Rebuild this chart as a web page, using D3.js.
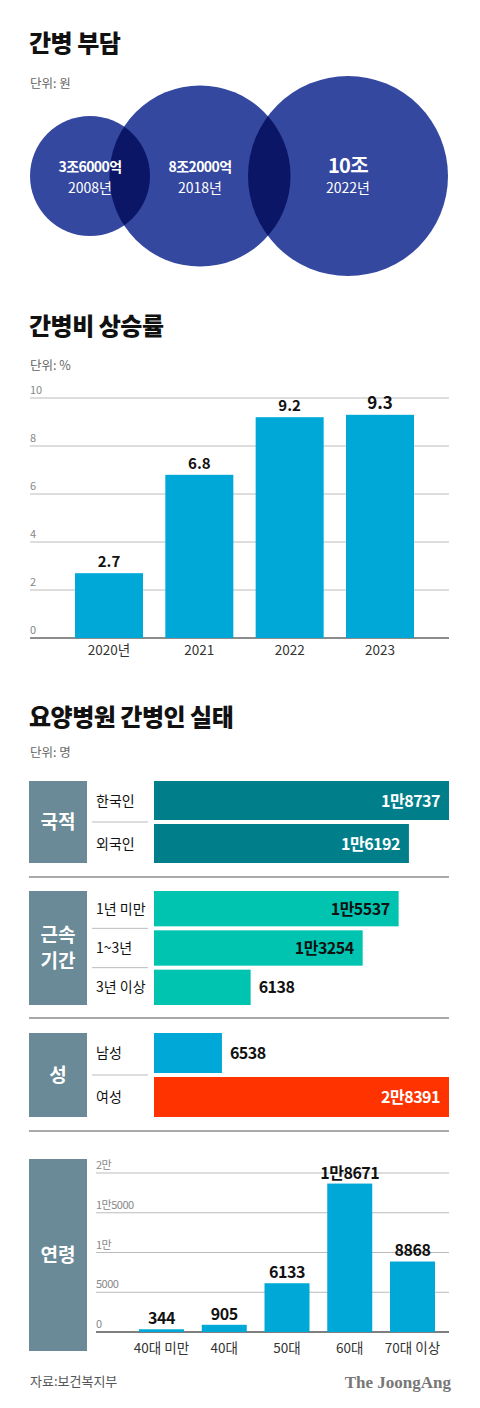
<!DOCTYPE html>
<html><head><meta charset="utf-8">
<script src="https://cdn.jsdelivr.net/npm/d3@7"></script>
<style>body{margin:0;background:#fff}svg{display:block;font-family:"Noto Sans CJK KR",sans-serif}</style>
</head><body><svg id="c" width="480" height="1408"></svg>
<script>
// Data
const burdenLabels = ["3조6000억","8조2000억","10조"];
const burdenYears = ["2008년","2018년","2022년"];
const burdenValues = [3.6, 8.2, 10];
const rateYears = ["2020년","2021","2022","2023"];
const rateValues = [2.7, 6.8, 9.2, 9.3];
const rateTicks = [0,2,4,6,8,10];
const hGroups = ["국적","근속\n기간","성"];
const hCats = [["한국인","외국인"],["1년 미만","1~3년","3년 이상"],["남성","여성"]];
const hValues = [[18737,16192],[15537,13254,6138],[6538,28391]];
const hLabels = [["1만8737","1만6192"],["1만5537","1만3254","6138"],["6538","2만8391"]];
const ageCats = ["40대 미만","40대","50대","60대","70대 이상"];
const ageValues = [344, 905, 6133, 18671, 8868];
const ageLabels = ["344","905","6133","1만8671","8868"];
const ageTicks = [0,5000,10000,15000,20000];
const ageTickLabels = ["0","5000","1만","1만5000","2만"];

const svg = d3.select("#c");
function title(t,y){svg.append("text").attr("x",29).attr("y",y).attr("font-size",24).attr("font-weight",900).attr("fill","#111").attr("letter-spacing",-0.5).text(t);}
function unit(t,y){svg.append("text").attr("x",30).attr("y",y).attr("font-size",12.5).attr("fill","#666").text(t);}

// Section 1
title("간병 부담",52); unit("단위: 원",88);
const r = d3.scaleSqrt().domain([0,10]).range([0,100]);
const cx = [90,200,348], cy=176;
const defs = svg.append("defs");
burdenValues.forEach((v,i)=>{
  defs.append("clipPath").attr("id","cp"+i).append("circle").attr("cx",cx[i]).attr("cy",cy).attr("r",r(v));
});
burdenValues.forEach((v,i)=>{
  svg.append("circle").attr("cx",cx[i]).attr("cy",cy).attr("r",r(v)).attr("fill","#3548a0");
});
[0,1].forEach(i=>{
  svg.append("g").attr("clip-path",`url(#cp${i})`).append("circle").attr("cx",cx[i+1]).attr("cy",cy).attr("r",r(burdenValues[i+1])).attr("fill","#0b1766");
});
const lx=[90,200,348];
burdenValues.forEach((v,i)=>{
  svg.append("text").attr("x",lx[i]).attr("y",i==2?173:172).attr("text-anchor","middle").attr("fill","#fff").attr("font-weight",700).attr("font-size",i==2?20:14).attr("letter-spacing",-0.6).text(burdenLabels[i]);
  svg.append("text").attr("x",lx[i]).attr("y",193).attr("text-anchor","middle").attr("fill","#fff").attr("font-size",14).text(burdenYears[i]);
});

// Section 2
title("간병비 상승률",335); unit("단위: %",370);
const y2 = d3.scaleLinear().domain([0,10]).range([638,398]);
const x2 = d3.scaleBand().domain(rateYears).range([75,414]).paddingInner(0.247).paddingOuter(0);
rateTicks.forEach(t=>{
  svg.append("line").attr("x1",30).attr("x2",449).attr("y1",y2(t)).attr("y2",y2(t)).attr("stroke",t==0?"#666":"#bbb").attr("stroke-width",t==0?1.5:1);
  svg.append("text").attr("x",30).attr("y",y2(t)-4).attr("font-size",11).attr("fill","#888").text(t);
});
rateValues.forEach((v,i)=>{
  svg.append("rect").attr("x",x2(rateYears[i])).attr("y",y2(v)).attr("width",x2.bandwidth()).attr("height",y2(0)-y2(v)).attr("fill","#00a8d8");
  svg.append("text").attr("x",x2(rateYears[i])+x2.bandwidth()/2).attr("y",y2(v)-6).attr("text-anchor","middle").attr("font-size",i==3?17:15).attr("font-weight",700).attr("fill","#111").text(v);
  svg.append("text").attr("x",x2(rateYears[i])+x2.bandwidth()/2).attr("y",655).attr("text-anchor","middle").attr("font-size",13.5).attr("fill","#333").text(rateYears[i]);
});

// Section 3
title("요양병원 간병인 실태",726); unit("단위: 명",757);
const xh = d3.scaleLinear().domain([0,18737]).range([154,449]);
const xhG = d3.scaleLinear().domain([0,28391]).range([154,449]);
const groupTops=[781,891,1033], groupBottoms=[863,1005,1117];
const barColors=[["#007f8a","#007f8a"],["#00c4b0","#00c4b0","#00c4b0"],["#00a8d8","#ff3300"]];
const sepY=[877,1018,1131];
hGroups.forEach((g,gi)=>{
  const top=groupTops[gi], bot=groupBottoms[gi];
  const sc = gi==2 ? xhG : xh;
  svg.append("rect").attr("x",29).attr("y",top).attr("width",58).attr("height",bot-top).attr("fill","#6b8a97");
  const lines=g.split("\n");
  lines.forEach((l,li)=>{
    svg.append("text").attr("x",58).attr("y",(top+bot)/2+7+(li-(lines.length-1)/2)*26).attr("text-anchor","middle").attr("fill","#fff").attr("font-size",19).attr("font-weight",700).text(l);
  });
  const n=hCats[gi].length, gap=4, bh=(bot-top-gap*(n-1))/n;
  hCats[gi].forEach((c,ci)=>{
    const by=top+ci*(bh+gap);
    if(ci>0) svg.append("line").attr("x1",92).attr("x2",148).attr("y1",by-gap/2).attr("y2",by-gap/2).attr("stroke","#bbb");
    svg.append("text").attr("x",96).attr("y",by+bh/2+5).attr("font-size",14).attr("fill","#111").text(c);
    const v=hValues[gi][ci], w=sc(v);
    svg.append("rect").attr("x",154).attr("y",by).attr("width",w-154).attr("height",bh).attr("fill",barColors[gi][ci]);
    const inside = w-154>150;
    const lblColor = inside ? ((gi==0||(gi==2&&ci==1))?"#fff":"#111") : "#111";
    svg.append("text").attr("x",inside?w-9:w+8).attr("y",by+bh/2+6).attr("text-anchor",inside?"end":"start").attr("font-size",16).attr("font-weight",700).attr("fill",lblColor).attr("letter-spacing",-0.5).text(hLabels[gi][ci]);
  });
  svg.append("line").attr("x1",29).attr("x2",449).attr("y1",sepY[gi]).attr("y2",sepY[gi]).attr("stroke","#555").attr("stroke-width",1.2);
});

// Age
svg.append("rect").attr("x",29).attr("y",1159).attr("width",58).attr("height",192).attr("fill","#6b8a97");
svg.append("text").attr("x",58).attr("y",1262).attr("text-anchor","middle").attr("fill","#fff").attr("font-size",19).attr("font-weight",700).text("연령");
const ya = d3.scaleLinear().domain([0,20000]).range([1332,1173]);
const xa = d3.scaleBand().domain(ageCats).range([139,435]).paddingInner(0.283).paddingOuter(0);
ageTicks.forEach((t,i)=>{
  svg.append("line").attr("x1",96).attr("x2",449).attr("y1",ya(t)).attr("y2",ya(t)).attr("stroke",t==0?"#555":"#bbb").attr("stroke-width",t==0?1.5:1);
  svg.append("text").attr("x",96).attr("y",ya(t)-4).attr("font-size",11).attr("fill","#888").attr("letter-spacing",-0.5).text(ageTickLabels[i]);
});
ageValues.forEach((v,i)=>{
  const x=xa(ageCats[i]);
  svg.append("rect").attr("x",x).attr("y",ya(v)).attr("width",xa.bandwidth()).attr("height",ya(0)-ya(v)).attr("fill","#00a8d8");
  svg.append("text").attr("x",x+xa.bandwidth()/2).attr("y",ya(v)-5).attr("text-anchor","middle").attr("font-size",16).attr("font-weight",700).attr("fill","#111").attr("letter-spacing",-0.5).text(ageLabels[i]);
  svg.append("text").attr("x",x+xa.bandwidth()/2).attr("y",1353).attr("text-anchor","middle").attr("font-size",13.5).attr("fill","#333").text(ageCats[i]);
});

svg.append("text").attr("x",30).attr("y",1386).attr("font-size",13).attr("fill","#555").text("자료:보건복지부");
svg.append("text").attr("x",451).attr("y",1388).attr("text-anchor","end").attr("font-size",17).attr("font-weight",700).attr("fill","#777").attr("font-family","Liberation Serif, serif").text("The JoongAng");
</script></body></html>
